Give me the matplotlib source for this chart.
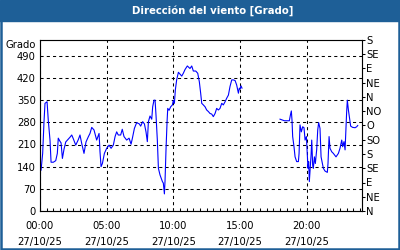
"""
Wind direction chart for one day (27/10/25)
Left axis in degrees, right axis with compass points
"""
# -------------------------------------------
# Modules
# -------------------------------------------
import numpy as np
import matplotlib.pyplot as plt
from matplotlib.patches import Rectangle

# -------------------------------------------
# Data (hours of the day, direction in degrees)
# -------------------------------------------
hours_morning = [0.08, 0.2, 0.3, 0.375, 0.53, 0.62, 0.75, 0.83, 1.0, 1.18, 1.3,
                 1.37, 1.5, 1.58, 1.68, 1.8, 1.93, 2.25, 2.38, 2.5, 2.68, 2.87,
                 3.0, 3.13, 3.3, 3.45, 3.63, 3.75, 3.88, 4.05, 4.25, 4.43, 4.5,
                 4.58, 4.68, 4.83, 5.0, 5.18, 5.33, 5.5, 5.63, 5.75, 5.87, 6.05,
                 6.17, 6.3, 6.5, 6.68, 6.83, 6.93, 7.08, 7.25, 7.45, 7.55, 7.7,
                 7.83, 7.95, 8.05, 8.13, 8.25, 8.38, 8.45, 8.55, 8.63, 8.7, 8.8,
                 8.88, 9.0, 9.18, 9.25, 9.33, 9.38, 9.45, 9.53, 9.58, 9.68, 9.8,
                 9.93, 10.0, 10.08, 10.15, 10.25, 10.38, 10.5, 10.63, 10.75,
                 10.88, 11.05, 11.25, 11.38, 11.5, 11.68, 11.83, 11.95, 12.05,
                 12.13, 12.25, 12.38, 12.5, 12.63, 12.75, 12.88, 13.0, 13.13,
                 13.25, 13.38, 13.5, 13.63, 13.75, 13.88, 14.0, 14.13, 14.25,
                 14.38, 14.5, 14.63, 14.75, 14.88, 14.95, 15.0, 15.08, 15.15]
dir_morning = [129, 182, 282, 340, 345, 287, 224, 154, 154, 159, 182,
               230, 220, 215, 166, 195, 218, 233, 240, 228, 208, 225,
               240, 213, 182, 218, 235, 245, 264, 256, 224, 245, 187,
               140, 150, 182, 198, 208, 198, 208, 235, 250, 240, 240,
               258, 235, 224, 230, 211, 230, 261, 279, 275, 268, 282,
               275, 250, 219, 282, 300, 290, 329, 350, 350, 303, 224,
               135, 114, 93, 88, 54, 98, 193, 282, 324, 318, 329,
               335, 350, 340, 382, 414, 438, 432, 426, 435,
               447, 458, 450, 458, 442, 442, 435, 408, 372,
               340, 335, 329, 319, 314, 308, 306, 298, 308,
               324, 319, 324, 340, 335, 345, 356, 366, 393,
               414, 414, 412, 398, 372, 388, 385, 395, 388]

hours_evening = [18.0, 18.33, 18.7, 18.78, 18.85, 18.9, 18.95, 19.05, 19.13,
                 19.25, 19.38, 19.43, 19.5, 19.6, 19.7, 19.8, 19.88, 19.98,
                 20.05, 20.1, 20.15, 20.2, 20.25, 20.33, 20.38, 20.45, 20.5,
                 20.58, 20.65, 20.75, 20.83, 20.9, 21.0, 21.08, 21.18, 21.25,
                 21.38, 21.55, 21.6, 21.68, 21.75, 21.88, 22.0, 22.2, 22.38,
                 22.5, 22.63, 22.7, 22.8, 22.88, 22.95, 23.0, 23.05, 23.13,
                 23.2, 23.3, 23.45, 23.63, 23.75, 23.83]
dir_evening = [290, 285, 285, 303, 316, 287, 235, 203, 171,
               156, 156, 182, 272, 250, 266, 263, 224, 235,
               177, 135, 156, 93, 124, 177, 224, 145, 135,
               171, 150, 193, 256, 279, 261, 171, 150, 135,
               126, 122, 150, 235, 198, 187, 182, 171, 182,
               198, 224, 203, 219, 193, 266, 314, 350, 319,
               298, 268, 264, 263, 266, 270]

degree_ticks = [0, 70, 140, 210, 280, 350, 420, 490]
compass_labels = ['N', 'NE', 'E', 'SE', 'S', 'SO', 'O', 'NO',
                  'N', 'NE', 'E', 'SE', 'S']
time_ticks = [0, 5, 10, 15, 20]
time_labels = ['00:00\n27/10/25', '05:00\n27/10/25', '10:00\n27/10/25',
               '15:00\n27/10/25', '20:00\n27/10/25']

title = 'Dirección del viento [Grado]'
BLUE_FRAME = '#1e5f97'

plt.rc('font', size=7.2, family='DejaVu Sans')

# -------------------------------------------
# Figure and frame
# -------------------------------------------
fig = plt.figure(figsize=(4, 2.5), dpi=100)
fig.patch.set_facecolor('white')

# title bar and border
fig.patches.append(Rectangle((0, 229.5 / 250), 1, 20.5 / 250,
                             transform=fig.transFigure, color=BLUE_FRAME,
                             zorder=0))
fig.patches.append(Rectangle((1 / 400, 0.75 / 250), 397.5 / 400, 248 / 250,
                             transform=fig.transFigure, fill=False,
                             edgecolor=BLUE_FRAME, linewidth=1.8, zorder=0))
fig.text(213 / 400, 1 - 10.5 / 250, title, color='white', fontsize=7.3,
         fontweight='bold', ha='center', va='center')

ax = fig.add_axes([40 / 400, 39 / 250, 322 / 400, 171 / 250])

# gap between the two series (no data in the afternoon)
hours = hours_morning + [np.nan] + hours_evening
direction = dir_morning + [np.nan] + dir_evening
ax.plot(hours, direction, color='#0000ff', linewidth=0.8, zorder=3)

ax.set_xlim([0, 24.15])
ax.set_ylim([0, 540])

ax.set_yticks(degree_ticks)
ax.tick_params(axis='y', which='major', length=0, pad=3)
ax.set_xticks(time_ticks)
ax.set_xticklabels(time_labels)
for lab in ax.get_xticklabels():
    lab.set_linespacing(1.7)
ax.set_xticks(np.arange(0, 24.1, 0.5), minor=True)
ax.tick_params(axis='x', which='both', direction='in', length=2, width=0.75,
               pad=7.5)

ax.grid(which='major', color='black', linestyle=(0, (3, 3)), linewidth=0.75)
for sp in ax.spines.values():
    sp.set_linewidth(0.75)

fig.text(36 / 400, 1 - 45.5 / 250, 'Grado', ha='right', va='center')

# compass axis on the right
ax2 = ax.twinx()
ax2.set_ylim(ax.get_ylim())
ax2.set_yticks(np.arange(0, 541, 45))
ax2.set_yticklabels(compass_labels)
ax2.tick_params(axis='y', direction='out', length=2.5, width=0.75, pad=0.5)

fig.savefig('out.png', dpi=100)
